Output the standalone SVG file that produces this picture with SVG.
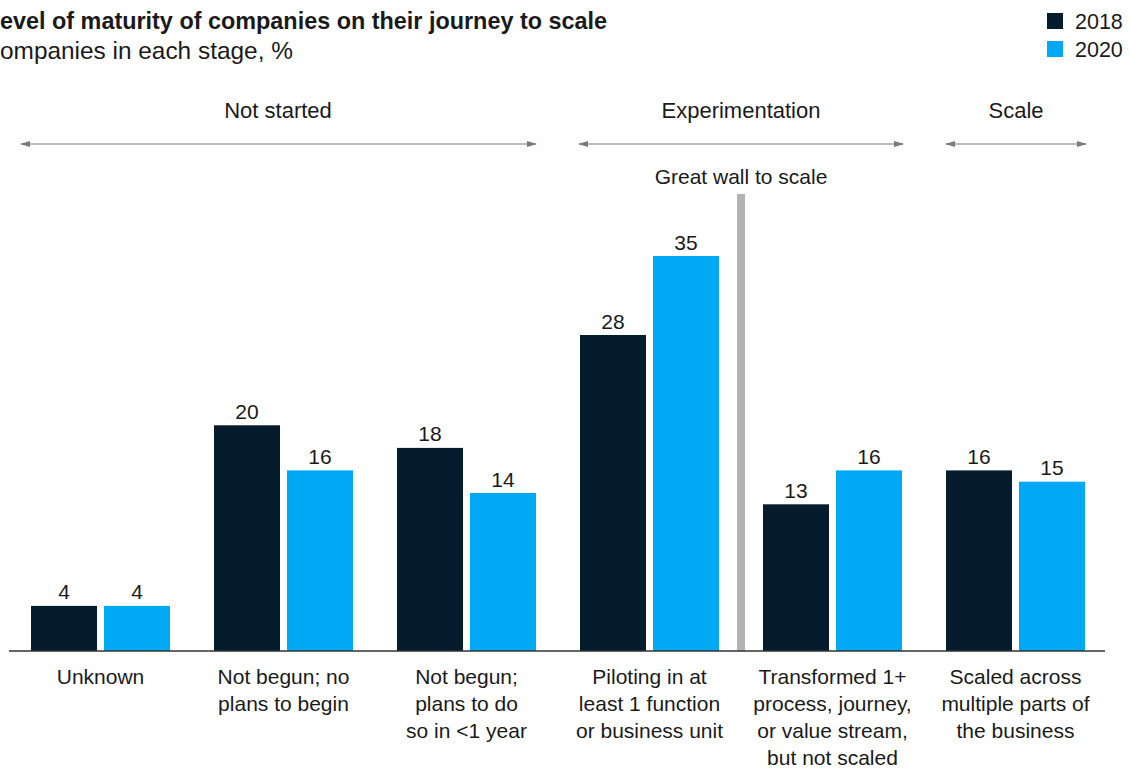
<svg xmlns="http://www.w3.org/2000/svg" width="1131" height="768" viewBox="0 0 1131 768">
<style>
text{font-family:"Liberation Sans",Arial,sans-serif;fill:#1a1a1a}
.t{font-size:23.4px;font-weight:bold}
.s{font-size:24.4px}
.lg{font-size:21.5px}
.h{font-size:22px;text-anchor:middle}
.w{font-size:21px;text-anchor:middle}
.v{font-size:21px;text-anchor:middle}
.c{font-size:21px;text-anchor:middle}
.d{fill:#051c2c}
.b{fill:#00a9f4}
.arr{stroke:#7a7a7a;stroke-width:1.2;fill:none;marker-start:url(#ah);marker-end:url(#ah)}
</style>
<defs>
<marker id="ah" viewBox="0 0 10 6" refX="9" refY="3" markerWidth="10" markerHeight="6" markerUnits="userSpaceOnUse" orient="auto-start-reverse">
<path d="M0,0 L10,3 L0,6 z" fill="#7a7a7a"/>
</marker>
</defs>
<rect width="1131" height="768" fill="#ffffff"/>
<g id="title">
<text class="t" x="0" y="29">evel of maturity of companies on their journey to scale</text>
<text class="s" x="0" y="59">ompanies in each stage, %</text>
</g>
<g id="legend">
<rect class="d" x="1047" y="13" width="16" height="16"/>
<text class="lg" x="1075" y="29">2018</text>
<rect class="b" x="1047" y="41" width="16" height="16"/>
<text class="lg" x="1075" y="57">2020</text>
</g>
<g id="stages">
<text class="h" x="278" y="118">Not started</text>
<text class="h" x="741" y="118">Experimentation</text>
<text class="h" x="1016" y="118">Scale</text>
</g>
<g id="connectors">
<line class="arr" x1="21" y1="144" x2="536" y2="144"/>
<line class="arr" x1="579" y1="144" x2="903" y2="144"/>
<line class="arr" x1="946" y1="144" x2="1086" y2="144"/>
</g>
<g id="wall">
<rect x="737" y="194" width="8" height="457" fill="#b3b3b3"/>
<text class="w" x="741" y="184">Great wall to scale</text>
</g>
<g id="g1">
<rect class="d" x="31" y="605.9" width="66" height="45.1"/>
<rect class="b" x="104" y="605.9" width="66" height="45.1"/>
<text class="v" x="64" y="599">4</text>
<text class="v" x="137" y="599">4</text>
<text class="c" x="100.5" y="684">Unknown</text>
</g>
<g id="g2">
<rect class="d" x="214" y="425.3" width="66" height="225.7"/>
<rect class="b" x="287" y="470.4" width="66" height="180.6"/>
<text class="v" x="247" y="419">20</text>
<text class="v" x="320" y="464">16</text>
<text class="c" x="283.5" y="684">Not begun; no</text>
<text class="c" x="283.5" y="711">plans to begin</text>
</g>
<g id="g3">
<rect class="d" x="397" y="447.9" width="66" height="203.1"/>
<rect class="b" x="470" y="493" width="66" height="158"/>
<text class="v" x="430" y="441">18</text>
<text class="v" x="503" y="487">14</text>
<text class="c" x="466.5" y="684">Not begun;</text>
<text class="c" x="466.5" y="711">plans to do</text>
<text class="c" x="466.5" y="738">so in &lt;1 year</text>
</g>
<g id="g4">
<rect class="d" x="580" y="335" width="66" height="316"/>
<rect class="b" x="653" y="256" width="66" height="395"/>
<text class="v" x="613" y="329">28</text>
<text class="v" x="686" y="250">35</text>
<text class="c" x="649.5" y="684">Piloting in at</text>
<text class="c" x="649.5" y="711">least 1 function</text>
<text class="c" x="649.5" y="738">or business unit</text>
</g>
<g id="g5">
<rect class="d" x="763" y="504.3" width="66" height="146.7"/>
<rect class="b" x="836" y="470.4" width="66" height="180.6"/>
<text class="v" x="796" y="498">13</text>
<text class="v" x="869" y="464">16</text>
<text class="c" x="832.5" y="684">Transformed 1+</text>
<text class="c" x="832.5" y="711">process, journey,</text>
<text class="c" x="832.5" y="738">or value stream,</text>
<text class="c" x="832.5" y="765">but not scaled</text>
</g>
<g id="g6">
<rect class="d" x="946" y="470.4" width="66" height="180.6"/>
<rect class="b" x="1019" y="481.7" width="66" height="169.3"/>
<text class="v" x="979" y="464">16</text>
<text class="v" x="1052" y="475">15</text>
<text class="c" x="1015.5" y="684">Scaled across</text>
<text class="c" x="1015.5" y="711">multiple parts of</text>
<text class="c" x="1015.5" y="738">the business</text>
</g>
<g id="axis">
<line x1="9" y1="651" x2="1105" y2="651" stroke="#333" stroke-width="1.5"/>
</g>
</svg>
